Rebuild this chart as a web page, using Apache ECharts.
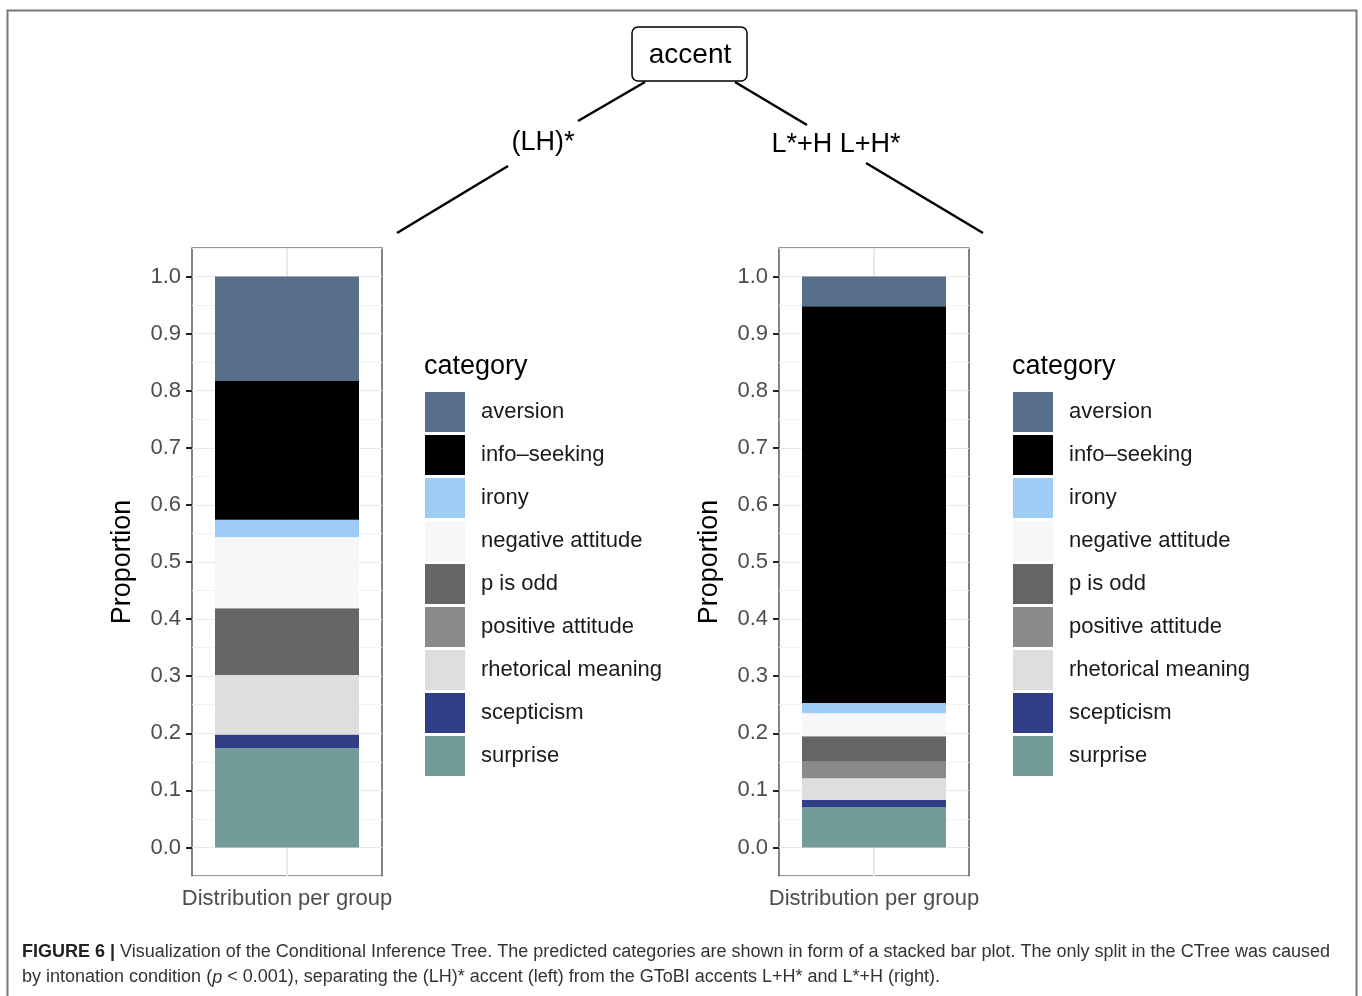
<!DOCTYPE html>
<html>
<head>
<meta charset="utf-8">
<script src="https://cdn.jsdelivr.net/npm/echarts@6/dist/echarts.min.js"></script>
<style>
  html, body { margin: 0; padding: 0; background: #fff; }
  #main { width: 1362px; height: 996px; }
</style>
</head>
<body>
<div id="main"></div>
<script>
// categories, top of legend first
var categories = ['aversion', 'info\u2013seeking', 'irony', 'negative attitude', 'p is odd',
  'positive attitude', 'rhetorical meaning', 'scepticism', 'surprise'];
var catColors = ['#586F8B', '#000000', '#9DCCF6', '#F7F7F7', '#656565',
  '#8A8A8A', '#DEDEDE', '#313D87', '#739B99'];
// proportions, same order as categories
var leftValues = [0.183, 0.243, 0.030, 0.125, 0.117, 0.000, 0.104, 0.024, 0.174];
var rightValues = [0.052, 0.695, 0.018, 0.040, 0.045, 0.029, 0.038, 0.012, 0.071];
var groupLabel = ['Distribution per group'];
var yTicks = [0, 0.1, 0.2, 0.3, 0.4, 0.5, 0.6, 0.7, 0.8, 0.9, 1.0];

var FONT = '"Liberation Sans", Arial, sans-serif';
var myChart = echarts.init(document.getElementById('main'));

var grids = [
  { left: 192, top: 248, width: 190, height: 628, show: true, borderColor: '#333', borderWidth: 1.2, backgroundColor: 'transparent' },
  { left: 779, top: 248, width: 190, height: 628, show: true, borderColor: '#333', borderWidth: 1.2, backgroundColor: 'transparent' }
];

var xAxes = [], yAxes = [];
for (var g = 0; g < 2; g++) {
  xAxes.push({
    type: 'category', gridIndex: g, data: groupLabel,
    axisLine: { show: false },
    axisTick: { show: true, alignWithLabel: true, length: 6, lineStyle: { color: '#222', width: 2 } },
    axisLabel: { color: '#4D4D4D', fontSize: 22, fontFamily: FONT, margin: 12 },
    splitLine: { show: false }
  });
  // visible axis: labels and ticks
  yAxes.push({
    type: 'value', gridIndex: g, min: -0.05, max: 1.05, interval: 0.05,
    axisLine: { show: false },
    axisTick: { show: true, length: 6, customValues: yTicks, lineStyle: { color: '#222', width: 2 } },
    axisLabel: { color: '#4D4D4D', fontSize: 22, fontFamily: FONT, margin: 11, customValues: yTicks,
      formatter: function (v) { return v.toFixed(1); } },
    splitLine: { show: false },
    name: 'Proportion', nameLocation: 'middle', nameGap: 56, nameRotate: 90,
    nameTextStyle: { color: '#000', fontSize: 27, fontFamily: FONT }
  });
}
// grid lines, major and minor alternate
for (var g2 = 0; g2 < 2; g2++) {
  yAxes.push({
    type: 'value', gridIndex: g2, min: -0.05, max: 1.05, interval: 0.05,
    axisLine: { show: false }, axisTick: { show: false }, axisLabel: { show: false },
    splitLine: { show: true, lineStyle: { color: ['#F3F3F3', '#E9E9E9'], width: 1.2 } }
  });
}

var series = [];
var panels = [leftValues, rightValues];
for (var p = 0; p < 2; p++) {
  // center grid line, behind the bars
  series.push({
    type: 'line', name: 'vgrid' + p, xAxisIndex: p, yAxisIndex: p, data: [], z: 1, silent: true,
    markLine: { z: 1, silent: true, symbol: 'none', label: { show: false },
      lineStyle: { color: '#E9E9E9', width: 2, type: 'solid' },
      data: [{ xAxis: 0 }] }
  });
  for (var i = categories.length - 1; i >= 0; i--) {
    series.push({
      type: 'bar', name: categories[i], xAxisIndex: p, yAxisIndex: p,
      stack: 'cat' + p, barWidth: 144, z: 3,
      itemStyle: { color: catColors[i] },
      data: [panels[p][i]]
    });
  }
}

function legendAt(x) {
  return {
    left: x, top: 392, orient: 'vertical', data: categories, padding: 0,
    icon: 'rect', itemWidth: 40, itemHeight: 40, itemGap: 3,
    selectedMode: false,
    textStyle: { color: '#1a1a1a', fontSize: 22, fontFamily: FONT, padding: [0, 0, 0, 11] }
  };
}

var option = {
  animation: false,
  textStyle: { fontFamily: FONT },
  title: [
    { text: 'category', left: 419, top: 348, textStyle: { fontSize: 27, fontWeight: 'normal', color: '#000', fontFamily: FONT } },
    { text: 'category', left: 1007, top: 348, textStyle: { fontSize: 27, fontWeight: 'normal', color: '#000', fontFamily: FONT } }
  ],
  legend: [legendAt(425), legendAt(1013)],
  grid: grids,
  xAxis: xAxes,
  yAxis: yAxes,
  series: series,
  graphic: [
    { type: 'rect', shape: { x: 7.5, y: 10.5, width: 1349, height: 1100 }, style: { fill: 'none', stroke: '#777', lineWidth: 2 }, silent: true },
    { type: 'rect', shape: { x: 632, y: 27, width: 115, height: 54, r: 6 }, style: { fill: '#fff', stroke: '#000', lineWidth: 1.5 } },
    { type: 'text', x: 690, y: 55, style: { text: 'accent', fontSize: 28, fontFamily: FONT, fill: '#000', align: 'center', verticalAlign: 'middle' } },
    { type: 'line', shape: { x1: 645, y1: 82, x2: 578, y2: 121 }, style: { stroke: '#000', lineWidth: 2.5 } },
    { type: 'line', shape: { x1: 735, y1: 82, x2: 807, y2: 125 }, style: { stroke: '#000', lineWidth: 2.5 } },
    { type: 'text', x: 543, y: 143, style: { text: '(LH)*', fontSize: 27, fontFamily: FONT, fill: '#000', align: 'center', verticalAlign: 'middle' } },
    { type: 'text', x: 836, y: 145, style: { text: 'L*+H L+H*', fontSize: 27, fontFamily: FONT, fill: '#000', align: 'center', verticalAlign: 'middle' } },
    { type: 'line', shape: { x1: 508, y1: 166, x2: 397, y2: 233 }, style: { stroke: '#000', lineWidth: 2.5 } },
    { type: 'line', shape: { x1: 866, y1: 163, x2: 983, y2: 233 }, style: { stroke: '#000', lineWidth: 2.5 } },
    { type: 'text', left: 22, top: 940, style: {
        text: '{b|FIGURE 6 |} Visualization of the Conditional Inference Tree. The predicted categories are shown in form of a stacked bar plot. The only split in the CTree was caused\n' +
              'by intonation condition ({i|p} < 0.001), separating the (LH)* accent (left) from the GToBI accents L+H* and L*+H (right).',
        fontSize: 18, lineHeight: 25, fontFamily: FONT, fill: '#333',
        rich: {
          b: { fontWeight: 'bold', fontSize: 18, fontFamily: FONT, fill: '#222' },
          i: { fontStyle: 'italic', fontSize: 18, fontFamily: FONT, fill: '#333' }
        } } }
  ]
};

myChart.setOption(option);
</script>
</body>
</html>
